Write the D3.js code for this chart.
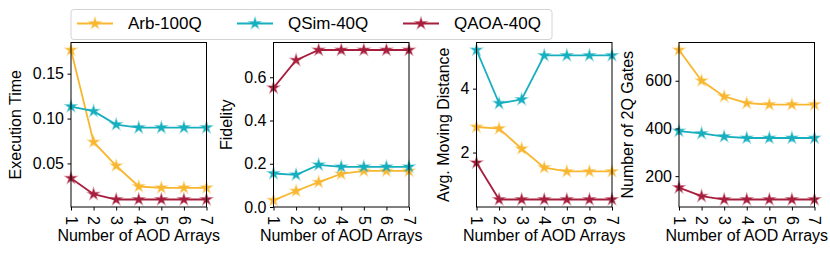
<!DOCTYPE html>
<meta charset="utf-8">
<style>
body {
  margin: 0;
  background: #fff;
}
text {
  font-family: "Liberation Sans", Arial, sans-serif;
  fill: #000;
}
.domain, .tick line {
  stroke: #000;
}
</style>
<body>
<script src="https://cdn.jsdelivr.net/npm/d3@7"></script>
<script>

var width = 830,
    height = 255;

var arrays = [1, 2, 3, 4, 5, 6, 7];
var seriesNames = ["Arb-100Q", "QSim-40Q", "QAOA-40Q"];
var colors = ["#f9b731", "#17afbf", "#a81f3d"];

// rows: Arb, QSim, QAOA
var execTime = [
  [0.1764, 0.0739, 0.0474, 0.0243, 0.0228, 0.0228, 0.0228],
  [0.1134, 0.1082, 0.0933, 0.0899, 0.0899, 0.0899, 0.0899],
  [0.0336, 0.0158, 0.0098, 0.0098, 0.0098, 0.0098, 0.0098]
];
var fidelity = [
  [0.031, 0.074, 0.115, 0.153, 0.167, 0.167, 0.167],
  [0.155, 0.149, 0.195, 0.186, 0.186, 0.186, 0.186],
  [0.551, 0.679, 0.726, 0.726, 0.726, 0.726, 0.726]
];
var movingDist = [
  [2.80, 2.75, 2.12, 1.53, 1.41, 1.41, 1.41],
  [5.21, 3.54, 3.66, 5.04, 5.04, 5.04, 5.04],
  [1.68, 0.53, 0.53, 0.53, 0.53, 0.53, 0.53]
];
var gates2q = [
  [729, 600, 534, 506, 500, 500, 500],
  [389, 379, 366, 360, 360, 360, 360],
  [152, 116, 102, 102, 102, 102, 102]
];

var yLabels = ["Execution Time", "Fidelity", "Avg. Moving Distance", "Number of 2Q Gates"];
var yTicks = [[0.05, 0.10, 0.15], [0.0, 0.2, 0.4, 0.6], [2, 4], [200, 400, 600]];
var yFormats = [".2f", ".1f", "d", "d"];

var panels = [
  {data: execTime, floor: null},
  {data: fidelity, floor: 0},
  {data: movingDist, floor: null},
  {data: gates2q, floor: null}
];

var plotLefts = [71, 273.5, 476.5, 679],
    plotW = 135.5,
    plotTop = 42.5,
    plotBottom = 207;

var svg = d3.select("body").append("svg")
    .attr("width", width)
    .attr("height", height);

var star = d3.symbol().type(d3.symbolStar).size(36);

panels.forEach(function(p, pi) {
  var all = d3.merge(p.data);
  var lo = d3.min(all), hi = d3.max(all), r = hi - lo;
  var y0 = p.floor !== null ? p.floor : lo - 0.05 * r;
  var y1 = hi + 0.05 * r;

  var x = d3.scaleLinear().domain([1, 7]).range([plotLefts[pi], plotLefts[pi] + plotW]);
  var y = d3.scaleLinear().domain([y0, y1]).range([plotBottom, plotTop]);

  var g = svg.append("g");

  var line = d3.line()
      .x(function(d, i) { return x(arrays[i]); })
      .y(function(d) { return y(d); });

  p.data.forEach(function(vals, si) {
    g.append("path")
        .datum(vals)
        .attr("d", line)
        .attr("fill", "none")
        .attr("stroke", colors[si])
        .attr("stroke-width", 1.8);
    g.selectAll(".pt" + si)
        .data(vals)
      .enter().append("path")
        .attr("transform", function(d, i) { return "translate(" + x(arrays[i]) + "," + y(d) + ")"; })
        .attr("d", star)
        .attr("fill", colors[si])
        .attr("stroke", colors[si])
        .attr("stroke-opacity", 0.45)
        .attr("stroke-width", 1.5);
  });

  // frame
  g.append("rect")
      .attr("x", plotLefts[pi])
      .attr("y", plotTop)
      .attr("width", plotW)
      .attr("height", plotBottom - plotTop)
      .attr("fill", "none")
      .attr("stroke", "#000")
      .attr("stroke-width", 1);

  // y axis
  var yAxis = g.append("g")
      .attr("transform", "translate(" + plotLefts[pi] + ",0)")
      .call(d3.axisLeft(y).tickValues(yTicks[pi]).tickFormat(d3.format(yFormats[pi]))
        .tickSize(3.5).tickPadding(3.5));
  yAxis.select(".domain").remove();
  yAxis.selectAll("text").style("font-size", "16px");

  var maxW = 0;
  yAxis.selectAll("text").each(function() {
    maxW = Math.max(maxW, this.getBBox().width);
  });

  // x axis
  var xAxis = g.append("g")
      .attr("transform", "translate(0," + plotBottom + ")")
      .call(d3.axisBottom(x).tickValues(arrays).tickFormat(d3.format("d"))
        .tickSize(3.5).tickPadding(0));
  xAxis.select(".domain").remove();
  xAxis.selectAll("text")
      .style("font-size", "16px")
      .attr("text-anchor", "start")
      .attr("x", 0)
      .attr("y", 0)
      .attr("dy", "0.35em")
      .attr("transform", "translate(0,9) rotate(90)");

  g.append("text")
      .attr("x", plotLefts[pi] + plotW / 2)
      .attr("y", 241)
      .attr("text-anchor", "middle")
      .style("font-size", "16px")
      .text("Number of AOD Arrays");

  var lx = plotLefts[pi] - 7 - maxW - 12;
  g.append("text")
      .attr("transform", "translate(" + lx + "," + ((plotTop + plotBottom) / 2) + ") rotate(-90)")
      .attr("text-anchor", "middle")
      .style("font-size", "16px")
      .text(yLabels[pi]);
});

// legend
var legend = svg.append("g");
legend.append("rect")
    .attr("x", 71)
    .attr("y", 9.5)
    .attr("width", 481)
    .attr("height", 30)
    .attr("rx", 3)
    .attr("fill", "#fff")
    .attr("stroke", "#d4d4d4")
    .attr("stroke-width", 1);

var legendX = [77, 237, 403];
seriesNames.forEach(function(name, i) {
  var e = legend.append("g").attr("transform", "translate(" + legendX[i] + ",23.5)");
  e.append("line")
      .attr("x1", 0).attr("x2", 36)
      .attr("stroke", colors[i])
      .attr("stroke-width", 1.8);
  e.append("path")
      .attr("transform", "translate(18,0)")
      .attr("d", star)
      .attr("fill", colors[i])
      .attr("stroke", colors[i])
      .attr("stroke-opacity", 0.45)
      .attr("stroke-width", 1.5);
  e.append("text")
      .attr("x", 51)
      .attr("dy", "0.35em")
      .style("font-size", "17px")
      .text(name);
});

</script>
